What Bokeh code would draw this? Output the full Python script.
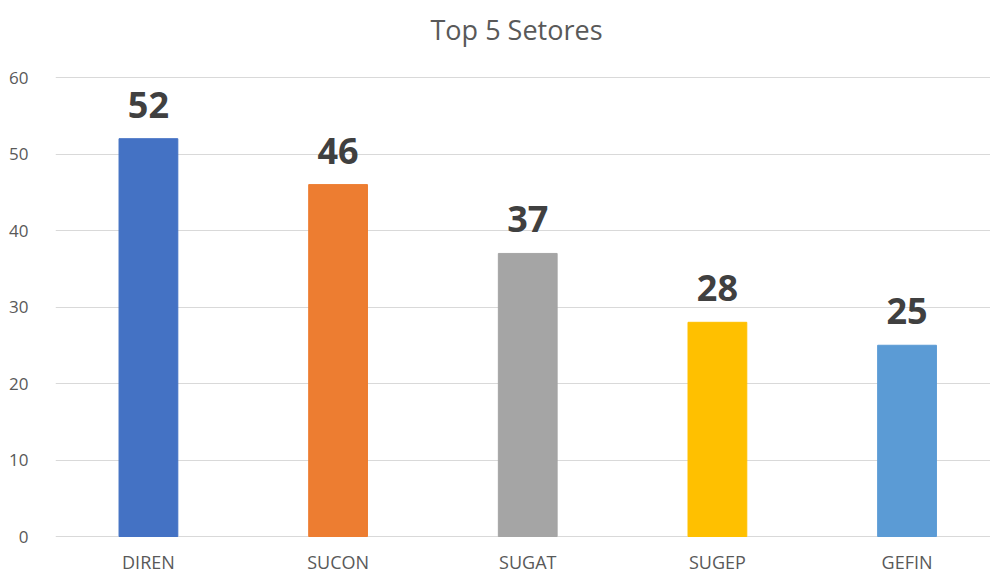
from bokeh.plotting import figure
from bokeh.models import ColumnDataSource, Range1d, FixedTicker, LabelSet, Label
from bokeh.core.properties import value
from bokeh.embed import file_html
from bokeh.resources import INLINE

title = "Top 5 Setores"
categories = ["DIREN", "SUCON", "SUGAT", "SUGEP", "GEFIN"]
values = [52, 46, 37, 28, 25]
colors = ["#4472C4", "#ED7D31", "#A5A5A5", "#FFC000", "#5B9BD5"]
y_ticks = [0, 10, 20, 30, 40, 50, 60]

xpos = [i + 0.5 for i in range(len(categories))]
src = ColumnDataSource(dict(x=xpos, top=values, base=[0] * len(values), color=colors,
                            cat=categories, label=[str(v) for v in values]))

# frame spans the full height; value axis 0..60 occupies 77px..536px
px_per_unit = 459 / 60
p = figure(width=990, height=572, output_backend="svg", toolbar_location=None,
           x_range=Range1d(0.01, 4.94),
           y_range=Range1d(-36 / px_per_unit, 60 + 77 / px_per_unit),
           min_border_left=55, min_border_right=0, min_border_top=0,
           min_border_bottom=0)
p.outline_line_color = None
p.background_fill_color = "white"
p.border_fill_color = "white"

p.vbar(x="x", top="top", width=0.31, color="color", source=src)
labels = LabelSet(x="x", y="top", text="label", source=src, text_align="center",
                  text_baseline="bottom", y_offset=21, text_font=value("Open Sans"),
                  text_font_style="bold", text_font_size="36px", text_color="#404040")
p.add_layout(labels)

cat_labels = LabelSet(x="x", y="base", text="cat", source=src, text_align="center",
                      text_baseline="middle", y_offset=-25, text_font=value("Open Sans"),
                      text_font_size="18px", text_color="#595959")
p.add_layout(cat_labels)

p.add_layout(Label(x=461, y=543, x_units="screen", y_units="screen", text=title,
                   text_align="center", text_baseline="middle", text_font="Open Sans",
                   text_font_size="27px", text_color="#595959"))

p.xaxis.visible = False

p.yaxis.ticker = FixedTicker(ticks=y_ticks)
p.yaxis.axis_line_color = None
p.yaxis.major_tick_line_color = None
p.yaxis.minor_tick_line_color = None
p.yaxis.major_label_standoff = 21
p.yaxis.major_label_text_font = "Open Sans"
p.yaxis.major_label_text_font_size = "17px"
p.yaxis.major_label_text_color = "#595959"

p.xgrid.grid_line_color = None
p.ygrid.grid_line_color = "#d9d9d9"
p.ygrid.grid_line_width = 1

open("out.html", "w").write(file_html(p, INLINE))
